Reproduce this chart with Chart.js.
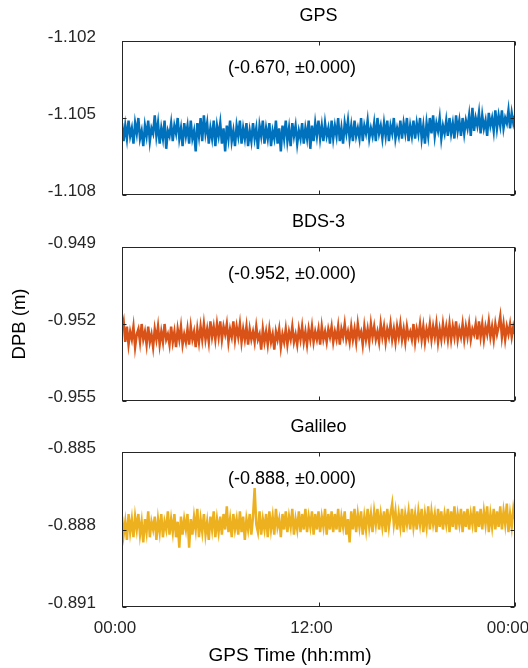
<!DOCTYPE html>
<html>
<head>
<meta charset="utf-8">
<script src="https://cdn.jsdelivr.net/npm/chart.js@4.4.0/dist/chart.umd.min.js"></script>
<style>
  html, body { margin: 0; padding: 0; background: #fff; }
  #wrap { position: relative; width: 528px; height: 668px; }
  #wrap canvas { position: absolute; left: 0; }
</style>
</head>
<body>
<div id="wrap">
  <canvas id="gps" width="528" height="205" style="top:0"></canvas>
  <canvas id="bds" width="528" height="205" style="top:206px"></canvas>
  <canvas id="gal" width="528" height="257" style="top:411px"></canvas>
</div>
<script>
// DPB values (m), one every 6 minutes over the day
const gpsDpb = [
  -1.1052,-1.1059,-1.1053,-1.1058,-1.1051,-1.1057,-1.1054,-1.1060,-1.1052,-1.1056,
  -1.1050,-1.1058,-1.1055,-1.1061,-1.1053,-1.1057,-1.1051,-1.1059,-1.1054,-1.1056,
  -1.1049,-1.1057,-1.1052,-1.1060,-1.1054,-1.1058,-1.1051,-1.1062,-1.1055,-1.1057,
  -1.1052,-1.1059,-1.1053,-1.1056,-1.1050,-1.1058,-1.1054,-1.1061,-1.1052,-1.1057,
  -1.1053,-1.1060,-1.1051,-1.1058,-1.1055,-1.1063,-1.1052,-1.1057,-1.1050,-1.1059,
  -1.1049,-1.1056,-1.1052,-1.1060,-1.1054,-1.1058,-1.1051,-1.1061,-1.1053,-1.1057,
  -1.1052,-1.1060,-1.1054,-1.1063,-1.1053,-1.1058,-1.1051,-1.1059,-1.1055,-1.1061,
  -1.1053,-1.1057,-1.1051,-1.1060,-1.1054,-1.1058,-1.1052,-1.1061,-1.1055,-1.1059,
  -1.1052,-1.1058,-1.1054,-1.1062,-1.1053,-1.1057,-1.1051,-1.1060,-1.1054,-1.1058,
  -1.1052,-1.1061,-1.1055,-1.1058,-1.1051,-1.1060,-1.1054,-1.1063,-1.1053,-1.1058,
  -1.1051,-1.1059,-1.1054,-1.1061,-1.1052,-1.1057,-1.1053,-1.1060,-1.1055,-1.1058,
  -1.1052,-1.1060,-1.1054,-1.1058,-1.1051,-1.1062,-1.1053,-1.1059,-1.1052,-1.1057,
  -1.1051,-1.1058,-1.1053,-1.1059,-1.1052,-1.1057,-1.1054,-1.1060,-1.1051,-1.1058,
  -1.1053,-1.1057,-1.1050,-1.1059,-1.1054,-1.1060,-1.1052,-1.1056,-1.1051,-1.1058,
  -1.1053,-1.1059,-1.1051,-1.1057,-1.1054,-1.1058,-1.1050,-1.1059,-1.1053,-1.1056,
  -1.1051,-1.1058,-1.1054,-1.1057,-1.1052,-1.1059,-1.1050,-1.1056,-1.1053,-1.1058,
  -1.1052,-1.1057,-1.1051,-1.1059,-1.1053,-1.1056,-1.1050,-1.1058,-1.1054,-1.1057,
  -1.1051,-1.1058,-1.1052,-1.1056,-1.1050,-1.1059,-1.1053,-1.1057,-1.1051,-1.1058,
  -1.1052,-1.1056,-1.1050,-1.1058,-1.1053,-1.1060,-1.1052,-1.1057,-1.1050,-1.1056,
  -1.1049,-1.1057,-1.1052,-1.1055,-1.1050,-1.1058,-1.1053,-1.1056,-1.1051,-1.1057,
  -1.1050,-1.1056,-1.1052,-1.1058,-1.1049,-1.1055,-1.1051,-1.1057,-1.1050,-1.1056,
  -1.1051,-1.1054,-1.1049,-1.1057,-1.1046,-1.1055,-1.1050,-1.1053,-1.1048,-1.1056,
  -1.1049,-1.1054,-1.1051,-1.1057,-1.1048,-1.1053,-1.1050,-1.1055,-1.1047,-1.1054,
  -1.1049,-1.1053,-1.1047,-1.1054,-1.1050,-1.1052,-1.1047,-1.1054,-1.1048,-1.1052,
  -1.1049
];
const bdsDpb = [
  -0.9522,-0.9519,-0.9527,-0.9521,-0.9528,-0.9523,-0.9526,-0.9521,-0.9529,-0.9524,
  -0.9522,-0.9527,-0.9520,-0.9526,-0.9523,-0.9528,-0.9521,-0.9527,-0.9524,-0.9529,
  -0.9522,-0.9526,-0.9521,-0.9528,-0.9523,-0.9527,-0.9520,-0.9526,-0.9524,-0.9528,
  -0.9521,-0.9527,-0.9523,-0.9529,-0.9522,-0.9526,-0.9521,-0.9528,-0.9524,-0.9527,
  -0.9522,-0.9528,-0.9521,-0.9526,-0.9523,-0.9529,-0.9522,-0.9527,-0.9521,-0.9526,
  -0.9520,-0.9526,-0.9522,-0.9527,-0.9519,-0.9525,-0.9521,-0.9526,-0.9520,-0.9525,
  -0.9519,-0.9526,-0.9521,-0.9524,-0.9520,-0.9527,-0.9522,-0.9525,-0.9519,-0.9526,
  -0.9521,-0.9525,-0.9520,-0.9527,-0.9522,-0.9526,-0.9521,-0.9528,-0.9522,-0.9526,
  -0.9523,-0.9527,-0.9521,-0.9526,-0.9524,-0.9530,-0.9522,-0.9527,-0.9523,-0.9528,
  -0.9522,-0.9527,-0.9524,-0.9530,-0.9523,-0.9526,-0.9522,-0.9529,-0.9524,-0.9527,
  -0.9522,-0.9528,-0.9523,-0.9526,-0.9521,-0.9527,-0.9524,-0.9528,-0.9522,-0.9526,
  -0.9521,-0.9527,-0.9523,-0.9528,-0.9522,-0.9526,-0.9521,-0.9527,-0.9523,-0.9526,
  -0.9522,-0.9528,-0.9521,-0.9526,-0.9523,-0.9527,-0.9522,-0.9525,-0.9521,-0.9527,
  -0.9523,-0.9526,-0.9521,-0.9528,-0.9522,-0.9525,-0.9520,-0.9526,-0.9523,-0.9527,
  -0.9521,-0.9526,-0.9522,-0.9527,-0.9520,-0.9525,-0.9523,-0.9528,-0.9521,-0.9526,
  -0.9522,-0.9527,-0.9520,-0.9525,-0.9521,-0.9526,-0.9523,-0.9527,-0.9520,-0.9525,
  -0.9521,-0.9527,-0.9522,-0.9525,-0.9520,-0.9526,-0.9522,-0.9527,-0.9521,-0.9525,
  -0.9520,-0.9526,-0.9522,-0.9527,-0.9521,-0.9525,-0.9523,-0.9526,-0.9520,-0.9527,
  -0.9522,-0.9525,-0.9520,-0.9526,-0.9521,-0.9527,-0.9522,-0.9525,-0.9520,-0.9526,
  -0.9521,-0.9525,-0.9520,-0.9527,-0.9522,-0.9526,-0.9520,-0.9525,-0.9521,-0.9526,
  -0.9520,-0.9526,-0.9521,-0.9525,-0.9519,-0.9526,-0.9522,-0.9525,-0.9520,-0.9526,
  -0.9521,-0.9525,-0.9520,-0.9526,-0.9522,-0.9524,-0.9520,-0.9526,-0.9519,-0.9525,
  -0.9520,-0.9526,-0.9521,-0.9524,-0.9519,-0.9525,-0.9521,-0.9526,-0.9520,-0.9524,
  -0.9521,-0.9517,-0.9525,-0.9520,-0.9526,-0.9521,-0.9524,-0.9520,-0.9525,-0.9521,
  -0.9524
];
const galDpb = [
  -0.8875,-0.8882,-0.8877,-0.8884,-0.8874,-0.8881,-0.8876,-0.8883,-0.8875,-0.8880,
  -0.8874,-0.8882,-0.8877,-0.8885,-0.8876,-0.8881,-0.8873,-0.8883,-0.8877,-0.8880,
  -0.8875,-0.8884,-0.8876,-0.8881,-0.8874,-0.8883,-0.8877,-0.8880,-0.8873,-0.8882,
  -0.8876,-0.8881,-0.8874,-0.8883,-0.8877,-0.8887,-0.8875,-0.8882,-0.8876,-0.8880,
  -0.8874,-0.8887,-0.8876,-0.8882,-0.8875,-0.8880,-0.8872,-0.8883,-0.8876,-0.8881,
  -0.8874,-0.8882,-0.8877,-0.8884,-0.8875,-0.8880,-0.8873,-0.8883,-0.8876,-0.8881,
  -0.8875,-0.8882,-0.8874,-0.8880,-0.8871,-0.8881,-0.8876,-0.8883,-0.8874,-0.8880,
  -0.8876,-0.8882,-0.8873,-0.8881,-0.8875,-0.8884,-0.8876,-0.8880,-0.8874,-0.8882,
  -0.8875,-0.8864,-0.8878,-0.8881,-0.8873,-0.8882,-0.8876,-0.8880,-0.8874,-0.8883,
  -0.8873,-0.8880,-0.8875,-0.8882,-0.8872,-0.8879,-0.8876,-0.8883,-0.8874,-0.8880,
  -0.8873,-0.8881,-0.8875,-0.8879,-0.8872,-0.8882,-0.8876,-0.8880,-0.8873,-0.8881,
  -0.8874,-0.8880,-0.8872,-0.8881,-0.8875,-0.8879,-0.8873,-0.8882,-0.8874,-0.8880,
  -0.8873,-0.8881,-0.8875,-0.8879,-0.8872,-0.8882,-0.8874,-0.8880,-0.8873,-0.8881,
  -0.8874,-0.8880,-0.8872,-0.8881,-0.8875,-0.8879,-0.8873,-0.8882,-0.8876,-0.8885,
  -0.8873,-0.8880,-0.8872,-0.8881,-0.8874,-0.8879,-0.8873,-0.8882,-0.8875,-0.8880,
  -0.8872,-0.8879,-0.8874,-0.8881,-0.8873,-0.8878,-0.8872,-0.8880,-0.8874,-0.8879,
  -0.8873,-0.8881,-0.8872,-0.8879,-0.8874,-0.8870,-0.8878,-0.8873,-0.8880,-0.8874,
  -0.8879,-0.8872,-0.8881,-0.8874,-0.8878,-0.8873,-0.8880,-0.8872,-0.8879,-0.8874,
  -0.8880,-0.8873,-0.8878,-0.8872,-0.8881,-0.8874,-0.8879,-0.8871,-0.8880,-0.8873,
  -0.8878,-0.8874,-0.8881,-0.8872,-0.8879,-0.8873,-0.8880,-0.8874,-0.8878,-0.8872,
  -0.8881,-0.8873,-0.8879,-0.8871,-0.8880,-0.8874,-0.8878,-0.8872,-0.8881,-0.8873,
  -0.8879,-0.8872,-0.8880,-0.8874,-0.8878,-0.8871,-0.8881,-0.8873,-0.8879,-0.8872,
  -0.8880,-0.8873,-0.8878,-0.8871,-0.8881,-0.8874,-0.8879,-0.8872,-0.8880,-0.8873,
  -0.8879,-0.8871,-0.8880,-0.8873,-0.8878,-0.8870,-0.8881,-0.8874,-0.8879,-0.8872,
  -0.8876
];

// axis ranges and text of each panel
const gpsRange = [-1.108, -1.102];
const bdsRange = [-0.955, -0.949];
const galRange = [-0.891, -0.885];
const panelTitles = ["GPS", "BDS-3", "Galileo"];
const panelNotes = ["(-0.670, \u00b10.000)", "(-0.952, \u00b10.000)", "(-0.888, \u00b10.000)"];
const yTitle = "DPB (m)";
const xTitle = "GPS Time (hh:mm)";

const FONT = "'Liberation Sans', Arial, Helvetica, sans-serif";
const epochStep = 6; // minutes
const epochs = gpsDpb.map((_, i) => i * epochStep);

function hhmm(v) {
  const h = Math.floor(v / 60) % 24;
  const m = v % 60;
  return String(h).padStart(2, "0") + ":" + String(m).padStart(2, "0");
}

// рамка в стиле matlab, засечки внутрь и подписи
const boxPlugin = {
  id: "matlabBox",
  afterDraw(chart, args, opts) {
    const { ctx, chartArea: a, scales } = chart;
    const L = Math.round(a.left) + 0.5, R = Math.round(a.right) - 0.5;
    const T = Math.round(a.top) + 0.5, B = Math.round(a.bottom) - 0.5;
    ctx.save();
    ctx.strokeStyle = "#262626";
    ctx.lineWidth = 1;
    ctx.strokeRect(L, T, R - L, B - T);
    ctx.beginPath();
    scales.x.ticks.forEach((t) => {
      const px = Math.round(scales.x.getPixelForValue(t.value)) + 0.5;
      ctx.moveTo(px, T); ctx.lineTo(px, T + 4);
      ctx.moveTo(px, B); ctx.lineTo(px, B - 4);
    });
    scales.y.ticks.forEach((t) => {
      const py = Math.round(scales.y.getPixelForValue(t.value)) + 0.5;
      ctx.moveTo(L, py); ctx.lineTo(L + 4, py);
      ctx.moveTo(R, py); ctx.lineTo(R - 4, py);
    });
    ctx.stroke();

    ctx.fillStyle = "#000";
    ctx.textAlign = "center";
    ctx.textBaseline = "middle";
    ctx.font = "18px " + FONT;
    ctx.fillText(opts.title, (a.left + a.right) / 2, a.top - 25);
    ctx.fillText(opts.note, 292, a.top + 27);
    if (opts.yTitle) {
      ctx.font = "18.5px " + FONT;
      ctx.translate(20, (a.top + a.bottom) / 2);
      ctx.rotate(-Math.PI / 2);
      ctx.fillText(opts.yTitle, 0, 0);
      ctx.setTransform(1, 0, 0, 1, 0, 0);
    }
    if (opts.xTitle) {
      ctx.font = "19px " + FONT;
      ctx.fillText(opts.xTitle, 290, a.bottom + 49);
    }
    ctx.restore();
  },
};

function makePanel(id, values, color, range, text, showX) {
  return new Chart(document.getElementById(id), {
    type: "line",
    data: {
      datasets: [{
        data: values.map((v, i) => ({ x: epochs[i], y: v })),
        borderColor: color,
        borderWidth: 2.5,
        pointRadius: 0,
        tension: 0,
      }],
    },
    options: {
      responsive: false,
      animation: false,
      devicePixelRatio: 1,
      layout: { padding: { top: 41, right: 13, left: 0, bottom: 0 } },
      plugins: { legend: { display: false }, tooltip: { enabled: false }, matlabBox: text },
      scales: {
        x: {
          type: "linear", min: 0, max: 1440,
          grid: { display: false, drawTicks: false },
          border: { display: false },
          ticks: {
            display: showX, stepSize: 720, callback: hhmm, padding: 11, labelOffset: -7,
            maxRotation: 0, autoSkip: false, font: { family: FONT, size: 17 }, color: "#262626",
          },
          afterFit(s) { s.height = showX ? 61 : 10; s.paddingLeft = 0; s.paddingRight = 0; },
        },
        y: {
          min: range[0], max: range[1],
          grid: { display: false, drawTicks: false },
          border: { display: false },
          ticks: {
            stepSize: 0.003, callback: (v) => v.toFixed(3), padding: 26, labelOffset: -4,
            font: { family: FONT, size: 17 }, color: "#262626",
          },
          afterFit(s) { s.width = 122; s.paddingTop = 0; s.paddingBottom = 0; },
        },
      },
    },
    plugins: [boxPlugin],
  });
}

makePanel("gps", gpsDpb, "#0072BD", gpsRange, { title: panelTitles[0], note: panelNotes[0] }, false);
makePanel("bds", bdsDpb, "#D95319", bdsRange, { title: panelTitles[1], note: panelNotes[1], yTitle: yTitle }, false);
makePanel("gal", galDpb, "#EDB120", galRange, { title: panelTitles[2], note: panelNotes[2], xTitle: xTitle }, true);
</script>
</body>
</html>
